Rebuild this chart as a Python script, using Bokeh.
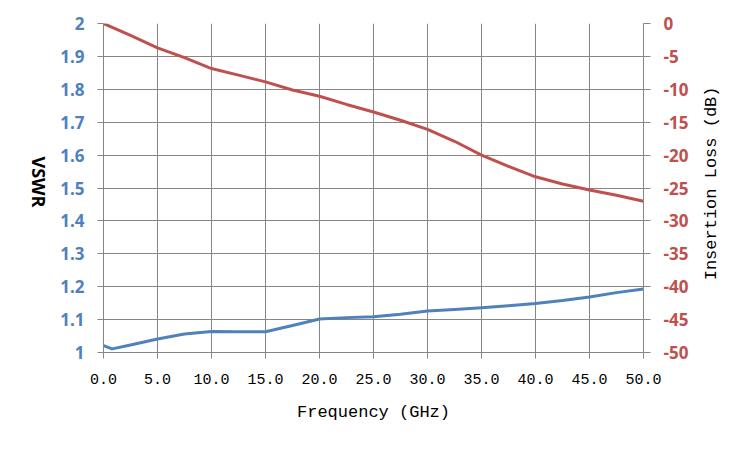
import math
from bokeh.plotting import figure
from bokeh.layouts import row
from bokeh.models import (Range1d, LinearAxis, FixedTicker, NumeralTickFormatter)
from bokeh.core.properties import value
from bokeh.embed import file_html
from bokeh.resources import INLINE

# ---- data ----
freq_vswr = [0, 0.8, 2.5, 5, 7.5, 10, 12.5, 15, 17.5, 20, 22.5, 25, 27.5, 30,
             32.5, 35, 37.5, 40, 42.5, 45, 47.5, 50]
vswr = [1.021, 1.011, 1.023, 1.041, 1.056, 1.064, 1.063, 1.063, 1.082, 1.102,
        1.106, 1.109, 1.116, 1.126, 1.131, 1.136, 1.142, 1.149, 1.158, 1.169,
        1.182, 1.193]

freq_il = [0, 2.5, 5, 7.5, 10, 12.5, 15, 17.5, 20, 22.5, 25, 27.5, 30, 32.5,
           35, 37.5, 40, 42.5, 45, 47.5, 50]
insertion_loss = [0, -1.8, -3.7, -5.2, -6.85, -7.85, -8.87, -10.1, -11.05, -12.3,
                  -13.45, -14.7, -16.1, -17.9, -20.0, -21.7, -23.3, -24.4, -25.3,
                  -26.1, -27.0]

x_ticks = [0, 5, 10, 15, 20, 25, 30, 35, 40, 45, 50]
vswr_ticks = [1.0, 1.1, 1.2, 1.3, 1.4, 1.5, 1.6, 1.7, 1.8, 1.9, 2.0]
il_ticks = [-50, -45, -40, -35, -30, -25, -20, -15, -10, -5, 0]

x_title = "Frequency (GHz)"
left_title = "VSWR"
right_title = "Insertion Loss (dB)"

BLUE = "#4F81BD"
RED = "#C0504D"
GRID = "#868686"
MONO = "Liberation Mono"
SANS = "Open Sans"

H = 430
LW, MW, RW = 57, 637, 40


def side_fig(w):
    f = figure(width=w, height=H, output_backend="svg", toolbar_location=None,
               title=None, x_range=Range1d(0, w), y_range=Range1d(0, H),
               x_axis_location=None, y_axis_location=None,
               min_border=0, min_border_left=0, min_border_right=0,
               min_border_top=0, min_border_bottom=0)
    f.outline_line_color = None
    f.xgrid.visible = False
    f.ygrid.visible = False
    return f


p = figure(width=MW, height=H, output_backend="svg", toolbar_location=None,
           x_range=Range1d(0, 50), y_range=Range1d(1, 2),
           min_border_left=46, min_border_right=51, min_border_top=23,
           min_border_bottom=78)
p.outline_line_color = None
p.background_fill_color = "white"
p.border_fill_color = "white"

p.extra_y_ranges = {"il": Range1d(-50, 0)}

# grids
p.xgrid.ticker = FixedTicker(ticks=x_ticks)
p.ygrid.ticker = FixedTicker(ticks=vswr_ticks)
for g in (p.xgrid, p.ygrid):
    g.grid_line_color = GRID
    g.grid_line_width = 1

# bottom axis
xa = p.xaxis[0]
xa.ticker = FixedTicker(ticks=x_ticks)
xa.formatter = NumeralTickFormatter(format="0.0")
xa.axis_line_color = GRID
xa.major_tick_line_color = GRID
xa.major_tick_out = 6
xa.major_tick_in = 0
xa.minor_tick_line_color = None
xa.major_label_text_font = MONO
xa.major_label_text_font_size = "15px"
xa.major_label_text_color = "black"
xa.major_label_standoff = 15
xa.axis_label = x_title
xa.axis_label_text_font = MONO
xa.axis_label_text_font_size = "17px"
xa.axis_label_text_font_style = "normal"
xa.axis_label_text_color = "black"
xa.axis_label_standoff = 16

# left axis
ya = p.yaxis[0]
ya.ticker = FixedTicker(ticks=vswr_ticks)
ya.formatter = NumeralTickFormatter(format="0.[0]")
ya.axis_line_color = GRID
ya.major_tick_line_color = GRID
ya.major_tick_out = 6
ya.major_tick_in = 0
ya.minor_tick_line_color = None
ya.major_label_text_font = SANS
ya.major_label_text_font_size = "17px"
ya.major_label_text_font_style = "bold"
ya.major_label_text_color = BLUE
ya.major_label_standoff = 13

# right axis
ra = LinearAxis(y_range_name="il", ticker=FixedTicker(ticks=il_ticks),
                formatter=NumeralTickFormatter(format="0"))
ra.axis_line_color = GRID
ra.major_tick_line_color = GRID
ra.major_tick_out = 7
ra.major_tick_in = 0
ra.minor_tick_line_color = None
ra.major_label_text_font = SANS
ra.major_label_text_font_size = "17px"
ra.major_label_text_font_style = "bold"
ra.major_label_text_color = RED
ra.major_label_standoff = 13
p.add_layout(ra, "right")

# lines
p.line(freq_il, insertion_loss, y_range_name="il", line_color=RED,
       line_width=3, line_join="round", line_cap="round")
p.line(freq_vswr, vswr, line_color=BLUE, line_width=3, line_join="round",
       line_cap="round")

# side titles (rotated as in the reference)
lf = side_fig(LW)
lf.text(x=[38], y=[H - 207], text=[left_title], angle=-math.pi / 2,
        text_align="center", text_baseline="middle",
        text_font=value(SANS), text_font_size="18px",
        text_font_style="bold", text_color="black")

rf = side_fig(RW)
rf.text(x=[711 - LW - MW], y=[H - 209], text=[right_title], angle=math.pi / 2,
        text_align="center", text_baseline="middle",
        text_font=value(MONO), text_font_size="17px", text_color="black")

layout = row(lf, p, rf, spacing=0)

open("out.html", "w").write(file_html(layout, INLINE))
